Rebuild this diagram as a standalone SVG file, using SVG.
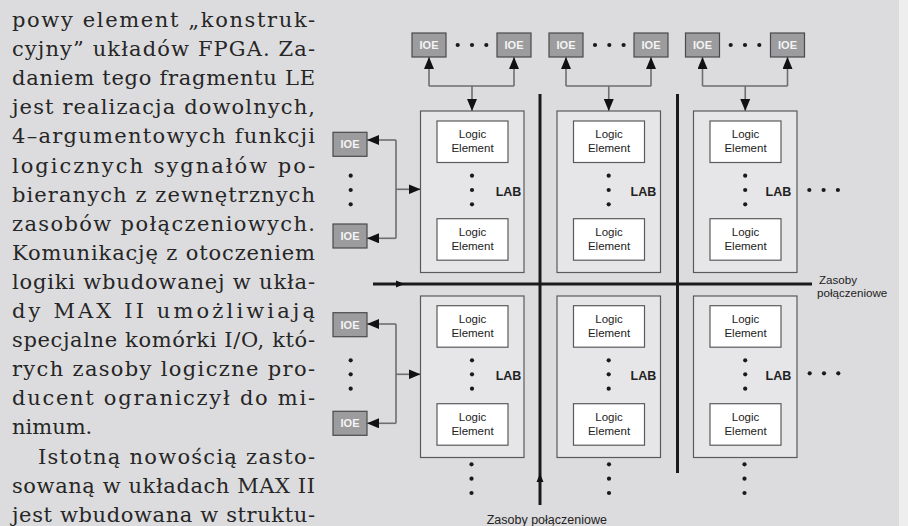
<svg xmlns="http://www.w3.org/2000/svg" width="908" height="526" viewBox="0 0 908 526">
<style>
.body{font-family:"DejaVu Serif","Liberation Serif",serif;font-size:21px;fill:#262626}
.lab{fill:#e6e6e8;stroke:#5a5a5a;stroke-width:1.2}
.le{fill:#ffffff;stroke:#5a5a5a;stroke-width:1.2}
.ioe{fill:#9c9c9e;stroke:#4a4a4a;stroke-width:1.2}
.ioet{font-family:"Liberation Sans",Arial,sans-serif;font-size:11px;font-weight:bold;fill:#f4f4f4;text-anchor:middle}
.let{font-family:"Liberation Sans",Arial,sans-serif;font-size:11.5px;fill:#222;text-anchor:middle}
.labt{font-family:"Liberation Sans",Arial,sans-serif;font-size:12.5px;font-weight:bold;fill:#222}
.zt{font-family:"Liberation Sans",Arial,sans-serif;font-size:12.5px;fill:#222}
.zr{font-family:"Liberation Sans",Arial,sans-serif;font-size:11.6px;fill:#222}
.con{fill:none;stroke:#6e6e6e;stroke-width:1.6}
.div{fill:none;stroke:#1a1a1a;stroke-width:3}
.dot{fill:#1a1a1a}
</style>
<defs>
<marker id="ah" markerUnits="userSpaceOnUse" markerWidth="12" markerHeight="10" refX="12" refY="5" orient="auto">
<path d="M0,0 L12,5 L0,10 z" fill="#111"/>
</marker>
</defs>
<rect x="0" y="0" width="899" height="526" fill="#dcdcde"/>
<rect x="899" y="0" width="9" height="526" fill="#eeeeef"/>

<g id="text">
<text class="body" x="12" y="27" textLength="303" lengthAdjust="spacing">powy element „konstruk-</text>
<text class="body" x="12" y="56.1" textLength="303" lengthAdjust="spacing">cyjny” układów FPGA. Za-</text>
<text class="body" x="12" y="85.2" textLength="303" lengthAdjust="spacing">daniem tego fragmentu LE</text>
<text class="body" x="12" y="114.3" textLength="303" lengthAdjust="spacing">jest realizacja dowolnych,</text>
<text class="body" x="12" y="143.4" textLength="303" lengthAdjust="spacing">4–argumentowych funkcji</text>
<text class="body" x="12" y="172.5" textLength="303" lengthAdjust="spacing">logicznych sygnałów po-</text>
<text class="body" x="12" y="201.6" textLength="303" lengthAdjust="spacing">bieranych z zewnętrznych</text>
<text class="body" x="12" y="230.7" textLength="303" lengthAdjust="spacing">zasobów połączeniowych.</text>
<text class="body" x="12" y="259.8" textLength="303" lengthAdjust="spacing">Komunikację z otoczeniem</text>
<text class="body" x="12" y="288.9" textLength="303" lengthAdjust="spacing">logiki wbudowanej w ukła-</text>
<text class="body" x="12" y="318" textLength="303" lengthAdjust="spacing">dy MAX II umożliwiają</text>
<text class="body" x="12" y="347.1" textLength="303" lengthAdjust="spacing">specjalne komórki I/O, któ-</text>
<text class="body" x="12" y="376.2" textLength="303" lengthAdjust="spacing">rych zasoby logiczne pro-</text>
<text class="body" x="12" y="405.3" textLength="303" lengthAdjust="spacing">ducent ograniczył do mi-</text>
<text class="body" x="12" y="434.4">nimum.</text>
<text class="body" x="38" y="463.5" textLength="277" lengthAdjust="spacing">Istotną nowością zasto-</text>
<text class="body" x="12" y="492.6" textLength="303" lengthAdjust="spacing">sowaną w układach MAX II</text>
<text class="body" x="12" y="521.7" textLength="303" lengthAdjust="spacing">jest wbudowana w struktu-</text>
</g>

<g id="connectors">
<path class="div" d="M373,284 H812 M540,94 V505 M677.5,94 V473"/>
<polygon points="396,280.5 404.5,284 396,287.5" fill="#111"/>
<polygon points="536.5,482 540,473.5 543.5,482" fill="#111"/>
<path class="con" d="M429,86 H514 M566,86 H651 M702.5,86 H787.5"/>
<path class="con" marker-end="url(#ah)" d="M429,86 V57"/>
<path class="con" marker-end="url(#ah)" d="M514,86 V57"/>
<path class="con" marker-end="url(#ah)" d="M472,86 V111"/>
<path class="con" marker-end="url(#ah)" d="M566,86 V57"/>
<path class="con" marker-end="url(#ah)" d="M651,86 V57"/>
<path class="con" marker-end="url(#ah)" d="M608.75,86 V111"/>
<path class="con" marker-end="url(#ah)" d="M702.5,86 V57"/>
<path class="con" marker-end="url(#ah)" d="M787.5,86 V57"/>
<path class="con" marker-end="url(#ah)" d="M745.25,86 V111"/>
<path class="con" d="M396,140 V238.3 M396,324 V423.3"/>
<path class="con" marker-end="url(#ah)" d="M396,140 H367"/>
<path class="con" marker-end="url(#ah)" d="M396,238.3 H367"/>
<path class="con" marker-end="url(#ah)" d="M396,189.3 H420.5"/>
<path class="con" marker-end="url(#ah)" d="M396,324 H367"/>
<path class="con" marker-end="url(#ah)" d="M396,423.3 H367"/>
<path class="con" marker-end="url(#ah)" d="M396,374.3 H420.5"/>
</g>

<g id="ioe-top">
<g id="ioe-t1"><rect class="ioe" x="412" y="33" width="34" height="24"/><text class="ioet" x="429" y="49">IOE</text></g>
<g id="ioe-t2"><rect class="ioe" x="497" y="33" width="34" height="24"/><text class="ioet" x="514" y="49">IOE</text></g>
<g id="ioe-t3"><rect class="ioe" x="549" y="33" width="34" height="24"/><text class="ioet" x="566" y="49">IOE</text></g>
<g id="ioe-t4"><rect class="ioe" x="634" y="33" width="34" height="24"/><text class="ioet" x="651" y="49">IOE</text></g>
<g id="ioe-t5"><rect class="ioe" x="685.5" y="33" width="34" height="24"/><text class="ioet" x="702.5" y="49">IOE</text></g>
<g id="ioe-t6"><rect class="ioe" x="770.5" y="33" width="34" height="24"/><text class="ioet" x="787.5" y="49">IOE</text></g>
<circle class="dot" cx="457.7" cy="45" r="2.1"/><circle class="dot" cx="472" cy="45" r="2.1"/><circle class="dot" cx="486.3" cy="45" r="2.1"/>
<circle class="dot" cx="595" cy="45" r="2.1"/><circle class="dot" cx="609.3" cy="45" r="2.1"/><circle class="dot" cx="623.6" cy="45" r="2.1"/>
<circle class="dot" cx="730.7" cy="45" r="2.1"/><circle class="dot" cx="745" cy="45" r="2.1"/><circle class="dot" cx="759.3" cy="45" r="2.1"/>
</g>

<g id="ioe-left">
<g id="ioe-l1"><rect class="ioe" x="333" y="132.3" width="34" height="24"/><text class="ioet" x="350" y="148.3">IOE</text></g>
<g id="ioe-l2"><rect class="ioe" x="333" y="224" width="34" height="24"/><text class="ioet" x="350" y="240">IOE</text></g>
<g id="ioe-l3"><rect class="ioe" x="333" y="312.7" width="34" height="24"/><text class="ioet" x="350" y="328.7">IOE</text></g>
<g id="ioe-l4"><rect class="ioe" x="333" y="411.3" width="34" height="24"/><text class="ioet" x="350" y="427.3">IOE</text></g>
<circle class="dot" cx="350.7" cy="175.7" r="2.1"/><circle class="dot" cx="350.7" cy="190" r="2.1"/><circle class="dot" cx="350.7" cy="204.3" r="2.1"/>
<circle class="dot" cx="350.7" cy="360.3" r="2.1"/><circle class="dot" cx="350.7" cy="374.3" r="2.1"/><circle class="dot" cx="350.7" cy="388.7" r="2.1"/>
</g>

<g id="lab-1-1">
<rect class="lab" x="420.5" y="111" width="103.5" height="161.5"/>
<rect class="le" x="437" y="121" width="71" height="41.5"/><text class="let" x="472.5" y="138.3">Logic</text><text class="let" x="472.5" y="152">Element</text>
<rect class="le" x="437" y="218.7" width="71" height="41.5"/><text class="let" x="472.5" y="236">Logic</text><text class="let" x="472.5" y="249.7">Element</text>
<circle class="dot" cx="472" cy="175.7" r="2.1"/><circle class="dot" cx="472" cy="190" r="2.1"/><circle class="dot" cx="472" cy="204.3" r="2.1"/>
<text class="labt" x="495.7" y="196">LAB</text>
</g>
<g id="lab-1-2">
<rect class="lab" x="557" y="111" width="103.5" height="161.5"/>
<rect class="le" x="573.5" y="121" width="71" height="41.5"/><text class="let" x="609" y="138.3">Logic</text><text class="let" x="609" y="152">Element</text>
<rect class="le" x="573.5" y="218.7" width="71" height="41.5"/><text class="let" x="609" y="236">Logic</text><text class="let" x="609" y="249.7">Element</text>
<circle class="dot" cx="608.7" cy="175.7" r="2.1"/><circle class="dot" cx="608.7" cy="190" r="2.1"/><circle class="dot" cx="608.7" cy="204.3" r="2.1"/>
<text class="labt" x="630.5" y="196">LAB</text>
</g>
<g id="lab-1-3">
<rect class="lab" x="693.5" y="111" width="103.5" height="161.5"/>
<rect class="le" x="710" y="121" width="71" height="41.5"/><text class="let" x="745.5" y="138.3">Logic</text><text class="let" x="745.5" y="152">Element</text>
<rect class="le" x="710" y="218.7" width="71" height="41.5"/><text class="let" x="745.5" y="236">Logic</text><text class="let" x="745.5" y="249.7">Element</text>
<circle class="dot" cx="745.2" cy="175.7" r="2.1"/><circle class="dot" cx="745.2" cy="190" r="2.1"/><circle class="dot" cx="745.2" cy="204.3" r="2.1"/>
<text class="labt" x="765.5" y="196">LAB</text>
<circle class="dot" cx="809.3" cy="190" r="2.1"/><circle class="dot" cx="823.6" cy="190" r="2.1"/><circle class="dot" cx="837.9" cy="190" r="2.1"/>
</g>

<g id="lab-2-1">
<rect class="lab" x="420.5" y="296" width="103.5" height="161.5"/>
<rect class="le" x="437" y="305.7" width="71" height="41.5"/><text class="let" x="472.5" y="323">Logic</text><text class="let" x="472.5" y="336.7">Element</text>
<rect class="le" x="437" y="403.7" width="71" height="41.5"/><text class="let" x="472.5" y="421">Logic</text><text class="let" x="472.5" y="434.7">Element</text>
<circle class="dot" cx="472" cy="360.3" r="2.1"/><circle class="dot" cx="472" cy="374.3" r="2.1"/><circle class="dot" cx="472" cy="388.7" r="2.1"/>
<text class="labt" x="495.7" y="379.5">LAB</text>
<circle class="dot" cx="471.5" cy="464.3" r="2.1"/><circle class="dot" cx="471.5" cy="478.7" r="2.1"/><circle class="dot" cx="471.5" cy="493" r="2.1"/>
</g>
<g id="lab-2-2">
<rect class="lab" x="557" y="296" width="103.5" height="161.5"/>
<rect class="le" x="573.5" y="305.7" width="71" height="41.5"/><text class="let" x="609" y="323">Logic</text><text class="let" x="609" y="336.7">Element</text>
<rect class="le" x="573.5" y="403.7" width="71" height="41.5"/><text class="let" x="609" y="421">Logic</text><text class="let" x="609" y="434.7">Element</text>
<circle class="dot" cx="608.7" cy="360.3" r="2.1"/><circle class="dot" cx="608.7" cy="374.3" r="2.1"/><circle class="dot" cx="608.7" cy="388.7" r="2.1"/>
<text class="labt" x="630.5" y="379.5">LAB</text>
<circle class="dot" cx="609" cy="464.3" r="2.1"/><circle class="dot" cx="609" cy="478.7" r="2.1"/><circle class="dot" cx="609" cy="493" r="2.1"/>
</g>
<g id="lab-2-3">
<rect class="lab" x="693.5" y="296" width="103.5" height="161.5"/>
<rect class="le" x="710" y="305.7" width="71" height="41.5"/><text class="let" x="745.5" y="323">Logic</text><text class="let" x="745.5" y="336.7">Element</text>
<rect class="le" x="710" y="403.7" width="71" height="41.5"/><text class="let" x="745.5" y="421">Logic</text><text class="let" x="745.5" y="434.7">Element</text>
<circle class="dot" cx="745.2" cy="360.3" r="2.1"/><circle class="dot" cx="745.2" cy="374.3" r="2.1"/><circle class="dot" cx="745.2" cy="388.7" r="2.1"/>
<text class="labt" x="765.5" y="379.5">LAB</text>
<circle class="dot" cx="744.5" cy="464.3" r="2.1"/><circle class="dot" cx="744.5" cy="478.7" r="2.1"/><circle class="dot" cx="744.5" cy="493" r="2.1"/>
<circle class="dot" cx="809.7" cy="373.3" r="2.1"/><circle class="dot" cx="824" cy="373.3" r="2.1"/><circle class="dot" cx="838.3" cy="373.3" r="2.1"/>
</g>

<g id="labels">
<text class="zr" x="819" y="283.5">Zasoby</text>
<text class="zr" x="817" y="296.5">połączeniowe</text>
<text class="zt" x="486.7" y="523.5">Zasoby połączeniowe</text>
</g>
</svg>
